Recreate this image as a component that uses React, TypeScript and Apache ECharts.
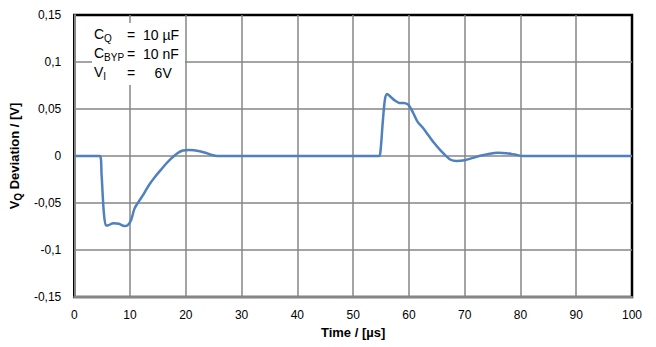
import React, { useEffect, useRef } from "react";
import * as echarts from "echarts";

const timeUs = [0, 4.6, 4.9, 5.3, 5.7, 6.2, 7, 8, 9, 9.6, 10.2, 10.8, 11.5, 12.5, 13.5, 14.5, 15.5, 16.5, 17.5, 18.5, 19.5, 20.5, 21.5, 22.5, 23.5, 24.5, 25.6,
  54.6, 54.9, 55.3, 55.7, 56.1, 56.7, 57.5, 58.3, 59, 59.8, 60.4, 61, 61.6, 62.5, 63.5, 64.5, 65.5, 66.5, 67.5, 68.5, 70, 71.5, 73, 74.5, 76, 77.5, 79, 80.5, 100];
const deviationV = [0, 0, -0.02, -0.06, -0.074, -0.0735, -0.0715, -0.072, -0.0745, -0.0735, -0.068, -0.056, -0.049, -0.04, -0.03, -0.022, -0.015, -0.008, -0.002, 0.003, 0.0058, 0.0064, 0.006, 0.005, 0.0035, 0.0015, 0,
  0, 0.005, 0.035, 0.06, 0.066, 0.063, 0.059, 0.0565, 0.0565, 0.055, 0.05, 0.043, 0.036, 0.03, 0.022, 0.014, 0.007, 0.001, -0.004, -0.0053, -0.0045, -0.002, 0.0005, 0.0025, 0.0034, 0.003, 0.0015, 0, 0];
const yTickLabels: Record<string, string> = {
  "0.15": "0,15", "0.1": "0,1", "0.05": "0,05", "0": "0",
  "-0.05": "-0,05", "-0.1": "-0,1", "-0.15": "-0,15",
};

const FONT = "Liberation Sans, Arial, sans-serif";

export default function App() {
  const ref = useRef<HTMLDivElement>(null);
  useEffect(() => {
    if (!ref.current) return;
    const chart = echarts.init(ref.current, undefined, { renderer: "svg" });
    const data = timeUs.map((t, i) => [t, deviationV[i]]);
    const sub = { fontSize: 10, fontFamily: FONT, color: "#000", verticalAlign: "bottom", padding: [8, 0, 0, 0] };
    const main = { fontSize: 14, fontFamily: FONT, color: "#000" };
    chart.setOption({
      animation: false,
      grid: { left: 72, right: 24, top: 15, bottom: 50, show: true, borderColor: "#000", borderWidth: 2.5, backgroundColor: "#fff" },
      xAxis: {
        type: "value", min: 0, max: 100, interval: 10,
        axisLine: { show: true, onZero: false, lineStyle: { color: "#868686", width: 2 } },
        axisTick: { show: false },
        splitLine: { show: true, showMinLine: false, showMaxLine: false, lineStyle: { color: "#868686", width: 1.5 } },
        axisLabel: { color: "#000", fontSize: 12, fontFamily: FONT, margin: 12 },
        name: "Time / [µs]", nameLocation: "middle", nameGap: 28,
        nameTextStyle: { color: "#000", fontSize: 13, fontWeight: "bold", fontFamily: FONT },
      },
      yAxis: {
        type: "value", min: -0.15, max: 0.15, interval: 0.05,
        axisLine: { show: true, onZero: false, lineStyle: { color: "#868686", width: 2 } },
        axisTick: { show: false },
        splitLine: { show: true, showMinLine: false, showMaxLine: false, lineStyle: { color: "#868686", width: 1.5 } },
        axisLabel: {
          color: "#000", fontSize: 12, fontFamily: FONT, margin: 13,
          formatter: (v: number) => yTickLabels[String(Math.round(v * 100) / 100)] ?? String(v).replace(".", ","),
        },
        name: "{b|V}{s|Q}{b| Deviation / [V]}",
        nameLocation: "middle", nameGap: 46,
        nameTextStyle: {
          rich: {
            b: { fontSize: 13, fontWeight: "bold", fontFamily: FONT, color: "#000" },
            s: { fontSize: 10, fontWeight: "bold", fontFamily: FONT, color: "#000", verticalAlign: "bottom", padding: [7, 0, 0, 0] },
          },
        },
      },
      series: [
        {
          type: "line", data,
          showSymbol: false, smooth: 0.3,
          lineStyle: { color: "#4F81BD", width: 2.5 },
        },
      ],
      graphic: [
        { type: "rect", left: 92, top: 23, shape: { width: 93, height: 62 }, style: { fill: "#fff" }, z: 10 },
        { type: "text", left: 94, top: 27, z: 11, style: { text: "{m|C}{s|Q}", rich: { m: main, s: sub } } },
        { type: "text", left: 94, top: 46, z: 11, style: { text: "{m|C}{s|BYP}", rich: { m: main, s: sub } } },
        { type: "text", left: 94, top: 65, z: 11, style: { text: "{m|V}{s|I}", rich: { m: main, s: sub } } },
        { type: "text", left: 127, top: 28, z: 11, style: { text: "=  10 µF", font: `14px ${FONT}`, fill: "#000" } },
        { type: "text", left: 127, top: 47, z: 11, style: { text: "=  10 nF", font: `14px ${FONT}`, fill: "#000" } },
        { type: "text", left: 127, top: 66, z: 11, style: { text: "=     6V", font: `14px ${FONT}`, fill: "#000" } },
      ],
    });
    return () => chart.dispose();
  }, []);
  return <div ref={ref} style={{ width: 656, height: 347, position: "absolute", left: 0, top: 0 }} />;
}
